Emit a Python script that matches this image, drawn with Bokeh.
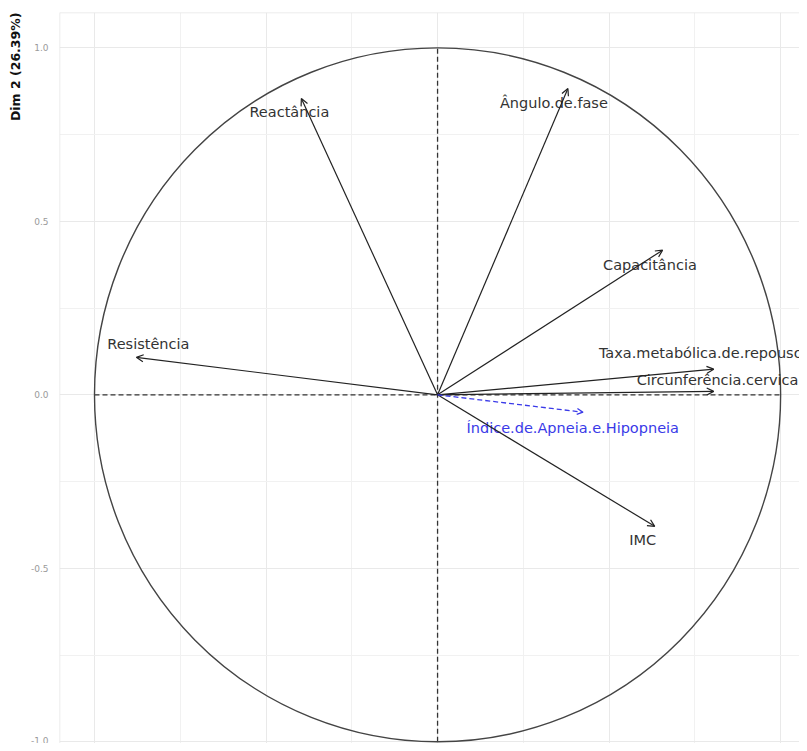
from bokeh.plotting import figure
from bokeh.models import ColumnDataSource, Arrow, OpenHead, FixedTicker, Span, Title
from bokeh.core.properties import value
from bokeh.embed import file_html
from bokeh.resources import INLINE

# Variables (black arrows)
variables = ["Reactância", "Ângulo.de.fase", "Capacitância", "Resistência",
             "Taxa.metabólica.de.repouso", "Circunferência.cervical", "IMC"]
dim1 = [-0.397, 0.380, 0.656, -0.878, 0.805, 0.805, 0.633]
dim2 = [0.854, 0.883, 0.417, 0.108, 0.074, 0.010, -0.379]
label_x = [-0.432, 0.339, 0.619, -0.843, 0.767, 0.822, 0.598]
label_y = [0.814, 0.840, 0.373, 0.146, 0.120, 0.042, -0.419]

# Supplementary variable (blue dashed arrow)
sup_variables = ["Índice.de.Apneia.e.Hipopneia"]
sup_dim1 = [0.424]
sup_dim2 = [-0.050]
sup_label_x = [0.394]
sup_label_y = [-0.097]

y_ticks = [-1.0, -0.5, 0.0, 0.5, 1.0]
y_tick_labels = {-1.0: "-1.0", -0.5: "-0.5", 0.0: "0.0", 0.5: "0.5", 1.0: "1.0"}
x_ticks = [-1.0, -0.5, 0.0, 0.5, 1.0]
minor = [-1.25, -0.75, -0.25, 0.25, 0.75, 1.25]
y_axis_title = "Dim 2 (26.39%)"

p = figure(width=799, height=743, x_range=(-1.102, 1.055), y_range=(-1.005, 1.102),
           output_backend="svg", toolbar_location=None,
           min_border_left=58, min_border_top=12, min_border_right=0, min_border_bottom=0)
p.outline_line_color = None
p.background_fill_color = "white"
p.border_fill_color = "white"

p.xaxis.visible = False
p.xaxis.ticker = FixedTicker(ticks=x_ticks, minor_ticks=minor)
p.yaxis.ticker = FixedTicker(ticks=y_ticks, minor_ticks=minor)
p.yaxis.major_label_overrides = y_tick_labels
p.yaxis.axis_line_color = None
p.yaxis.major_tick_line_color = None
p.yaxis.minor_tick_line_color = None
p.yaxis.major_label_text_font = "DejaVu Sans"
p.yaxis.major_label_text_font_size = "9px"
p.yaxis.major_label_text_color = "#9a9a9a"
p.yaxis.major_label_standoff = 5

for g in (p.xgrid, p.ygrid):
    g.grid_line_color = "#e9e9e9"
    g.grid_line_width = 1
    g.minor_grid_line_color = "#f1f1f1"
    g.minor_grid_line_width = 1

# panel edge lines (top/left)
p.add_layout(Span(location=1.102, dimension="width", line_color="#e6e6e6", line_width=1.5))
p.add_layout(Span(location=-1.102, dimension="height", line_color="#e6e6e6", line_width=1.5))

# dashed axes
p.segment(x0=[-1.0, 0.0], y0=[0.0, -1.0], x1=[1.0, 0.0], y1=[0.0, 1.0],
          line_color="#333333", line_width=1.3, line_dash="5 3")

# correlation circle
p.ellipse(x=[0], y=[0], width=[2], height=[2], fill_color=None,
          line_color="#444444", line_width=1.4)

src = ColumnDataSource(dict(x0=[0.0] * len(dim1), y0=[0.0] * len(dim1), x1=dim1, y1=dim2))
p.add_layout(Arrow(source=src, x_start="x0", y_start="y0", x_end="x1", y_end="y1",
                   line_color="#222222", line_width=1.2,
                   end=OpenHead(size=7, line_color="#222222", line_width=1.2)))

ssrc = ColumnDataSource(dict(x0=[0.0], y0=[0.0], x1=sup_dim1, y1=sup_dim2))
p.add_layout(Arrow(source=ssrc, x_start="x0", y_start="y0", x_end="x1", y_end="y1",
                   line_color="#3a3ae8", line_width=1.3, line_dash="5 3",
                   end=OpenHead(size=6, line_color="#3a3ae8", line_width=1.3)))

tsrc = ColumnDataSource(dict(x=label_x, y=label_y, t=variables))
p.text(x="x", y="y", text="t", source=tsrc, text_font=value("DejaVu Sans"),
       text_font_size="14.5px", text_color="#333333",
       text_align="center", text_baseline="middle")

stsrc = ColumnDataSource(dict(x=sup_label_x, y=sup_label_y, t=sup_variables))
p.text(x="x", y="y", text="t", source=stsrc, text_font=value("DejaVu Sans"),
       text_font_size="14.5px", text_color="#3a3ae8",
       text_align="center", text_baseline="middle")

p.add_layout(Title(text=y_axis_title, align="right", text_font="DejaVu Sans",
                   text_font_style="bold", text_font_size="12.5px",
                   text_color="#111111", offset=0), "left")

open("out.html", "w").write(file_html(p, INLINE))
